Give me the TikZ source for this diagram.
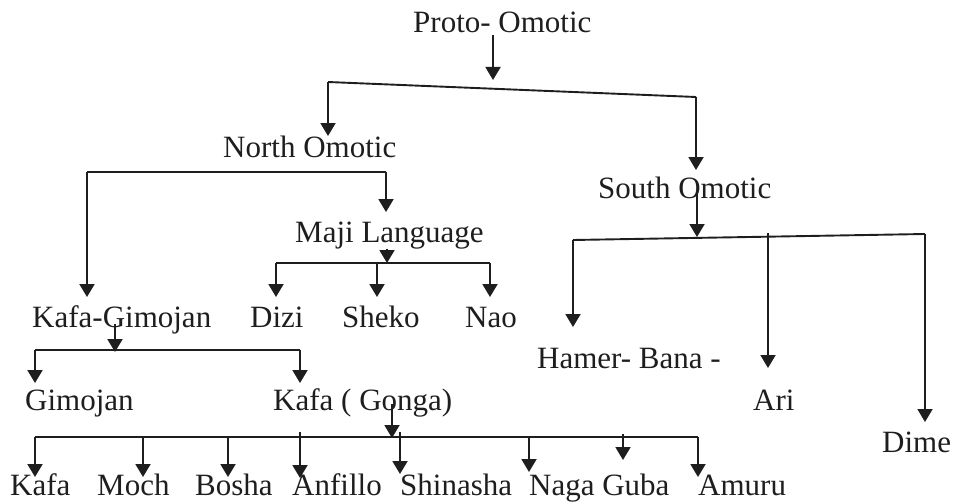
\documentclass[tikz,border=0pt]{standalone}
\usepackage{fontspec}
\setmainfont{Liberation Serif}
\usetikzlibrary{arrows.meta}
\definecolor{ink}{HTML}{1E1E1E}
\tikzset{
  lang/.style={anchor=base west, inner sep=0pt, text=ink, font=\fontsize{31}{34}\selectfont},
  link/.style={draw=ink, line width=1.9pt, line join=miter},
  arr/.style={link, -{Triangle[width=15pt,length=13pt]}}
}
\begin{document}
\begin{tikzpicture}[x=1pt,y=-1pt]
\useasboundingbox (0,0) rectangle (953,503);

% language names
\node[lang] (proto) at (413,33) {Proto- Omotic};
\node[lang] (north) at (223,157) {North Omotic};
\node[lang] (maji) at (295,242) {Maji Language};
\node[lang] (south) at (598,198) {South Omotic};
\node[lang] (kgim) at (32,327) {Kafa-Gimojan};
\node[lang] (dizi) at (250,327) {Dizi};
\node[lang] (sheko) at (342,327) {Sheko};
\node[lang] (nao) at (465,327) {Nao};
\node[lang] (hamer) at (537,368) {Hamer- Bana -};
\node[lang] (ari) at (753,410) {Ari};
\node[lang] (dime) at (882,452) {Dime};
\node[lang] (gim) at (25,410) {Gimojan};
\node[lang] (kgon) at (273,410) {Kafa ( Gonga)};
\node[lang] (kafa) at (10,495) {Kafa};
\node[lang] (moch) at (97,495) {Moch};
\node[lang] (bosha) at (195,495) {Bosha};
\node[lang] (anf) at (292,495) {Anfillo};
\node[lang] (shin) at (400,495) {Shinasha};
\node[lang] (naga) at (529,495) {Naga Guba};
\node[lang] (amuru) at (698,495) {Amuru};

% branch points
\coordinate (p0) at (493,35);   \coordinate (p1) at (493,80);
\coordinate (pL) at (328,82);   \coordinate (pR) at (696,97);
\coordinate (tN) at (328,136);  \coordinate (tS) at (696,170);

\coordinate (nL) at (87,172);   \coordinate (nR) at (386,172);
\coordinate (tKG) at (87,297);  \coordinate (tM) at (386,212);

\coordinate (m0) at (387,249);  \coordinate (m1) at (387,263);
\coordinate (mL) at (276,263);  \coordinate (mC) at (377,263);
\coordinate (mR) at (490,263);
\coordinate (tDi) at (276,297); \coordinate (tSh) at (377,297);
\coordinate (tNa) at (490,297);

\coordinate (s0) at (697,193);  \coordinate (s1) at (697,237);
\coordinate (sL) at (573,240);  \coordinate (sC) at (768,233);
\coordinate (sR) at (925,234);
\coordinate (tHa) at (573,327); \coordinate (tAr) at (768,368);
\coordinate (tDm) at (925,422);

\coordinate (g0) at (115,324);  \coordinate (g1) at (115,352);
\coordinate (gL) at (35,350);   \coordinate (gR) at (300,350);
\coordinate (tGi) at (35,383);  \coordinate (tKo) at (300,383);

\coordinate (k0) at (392,404);  \coordinate (k1) at (392,438);
\coordinate (kL) at (35,437);   \coordinate (kR) at (698,437);
\coordinate (kMo) at (143,437); \coordinate (kBo) at (228,437);
\coordinate (kAn) at (300,432); \coordinate (kSh) at (400,432);
\coordinate (kNa) at (529,437); \coordinate (kGu) at (623,434);
\coordinate (tKa) at (35,477);  \coordinate (tMo) at (143,477);
\coordinate (tBo) at (228,477); \coordinate (tAn) at (300,478);
\coordinate (tShi) at (400,474);\coordinate (tNg) at (529,472);
\coordinate (tGu) at (623,460); \coordinate (tAm) at (698,477);

% Proto-Omotic split
\draw[arr] (p0) -- (p1);
\draw[link] (pL) -- (pR);
\draw[arr] (pL) -- (tN);
\draw[arr] (pR) -- (tS);

% North Omotic split
\draw[link] (nL) -- (nR);
\draw[arr] (nL) -- (tKG);
\draw[arr] (nR) -- (tM);

% Maji group
\draw[arr] (m0) -- (m1);
\draw[link] (mL) -- (mR);
\draw[arr] (mL) -- (tDi);
\draw[arr] (mC) -- (tSh);
\draw[arr] (mR) -- (tNa);

% South Omotic group
\draw[arr] (s0) -- (s1);
\draw[link] (sL) -- (sR);
\draw[arr] (sL) -- (tHa);
\draw[arr] (sC) -- (tAr);
\draw[arr] (sR) -- (tDm);

% Kafa-Gimojan split
\draw[arr] (g0) -- (g1);
\draw[link] (gL) -- (gR);
\draw[arr] (gL) -- (tGi);
\draw[arr] (gR) -- (tKo);

% Kafa (Gonga) group
\draw[arr] (k0) -- (k1);
\draw[link] (kL) -- (kR);
\draw[arr] (kL) -- (tKa);
\draw[arr] (kMo) -- (tMo);
\draw[arr] (kBo) -- (tBo);
\draw[arr] (kAn) -- (tAn);
\draw[arr] (kSh) -- (tShi);
\draw[arr] (kNa) -- (tNg);
\draw[arr] (kGu) -- (tGu);
\draw[arr] (kR) -- (tAm);
\end{tikzpicture}
\end{document}
